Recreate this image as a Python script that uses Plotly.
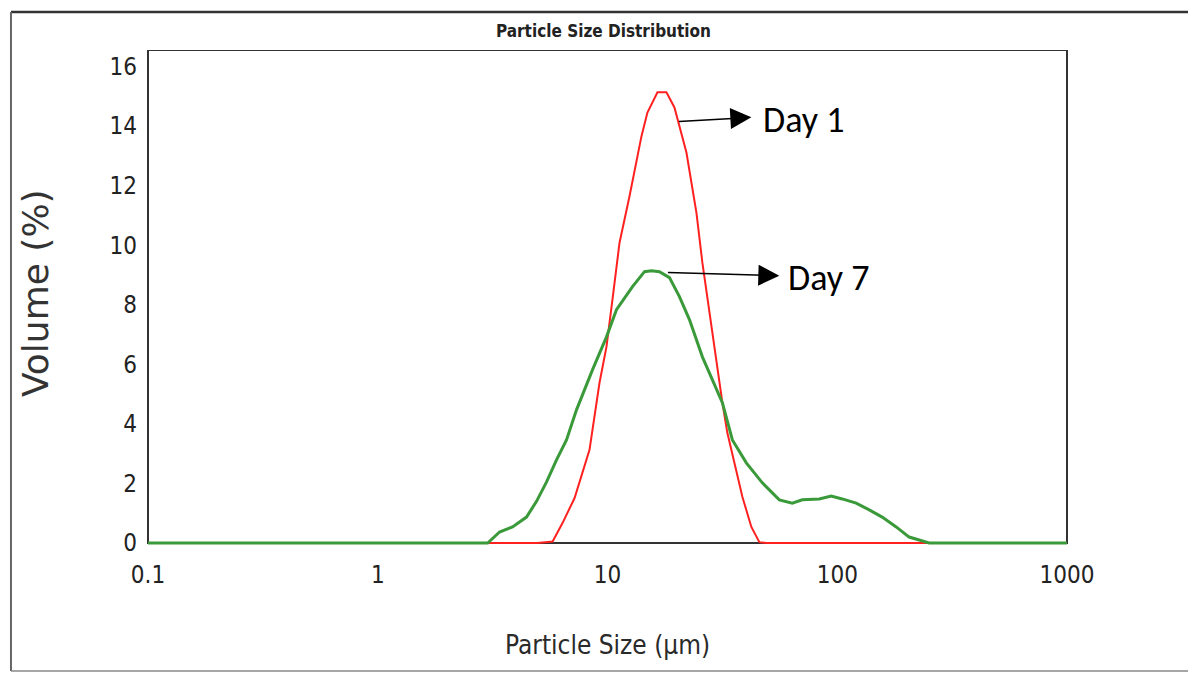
import numpy as np
import plotly.graph_objects as go

# ---- data (particle size in µm, volume in %) ----
day1_size = [0.8, 4.96, 5.77, 6.37, 7.19, 8.35, 9.23, 9.90, 10.51, 11.28, 12.46, 14.05,
             14.92, 16.5, 18.05, 19.56, 22.06, 24.38, 25.88, 27.77, 29.78, 31.62, 33.24,
             35.66, 38.64, 42.28, 45.81, 49.13, 259]
day1_volume = [0, 0, 0.05, 0.67, 1.51, 3.13, 5.38, 6.59, 8.17, 10.08, 11.63, 13.65,
               14.45, 15.13, 15.13, 14.62, 13.11, 11.09, 9.41, 7.73, 6.05, 4.71, 3.70,
               2.69, 1.55, 0.54, 0.03, 0, 0]

day7_size = [0.1, 3.01, 3.39, 3.86, 4.44, 4.91, 5.43, 6.00, 6.63, 7.33, 8.61, 9.90, 10.94,
             12.85, 14.49, 15.54, 16.83, 18.61, 20.56, 22.73, 25.88, 28.6, 31.62, 34.96,
             40.2, 47.2, 55.96, 63.73, 70.43, 83.51, 94.17, 105.1, 120.9, 137.8, 156.9,
             180.5, 205.6, 227.3, 251, 1000]
day7_volume = [0, 0, 0.37, 0.54, 0.87, 1.4, 2.05, 2.79, 3.46, 4.47, 5.82, 6.92, 7.83,
               8.61, 9.11, 9.14, 9.11, 8.91, 8.27, 7.5, 6.25, 5.48, 4.71, 3.46,
               2.69, 2.02, 1.45, 1.34, 1.45, 1.48, 1.58, 1.48, 1.34, 1.11, 0.87,
               0.54, 0.2, 0.1, 0, 0]

x_tick_vals = [0.1, 1, 10, 100, 1000]
x_tick_text = ["0.1", "1", "10", "100", "1000"]
y_tick_vals = [0, 2, 4, 6, 8, 10, 12, 14, 16]
y_tick_text = ["0", "2", "4", "6", "8", "10", "12", "14", "16"]

Y_MIN, Y_MAX = -0.1, 16.55

NARROW = "Liberation Sans Narrow, DejaVu Sans Condensed, Arial Narrow, sans-serif"

fig = go.Figure()
fig.add_trace(go.Scatter(x=day1_size, y=day1_volume, mode="lines", name="Day 1",
                         line=dict(color="#ff2020", width=2), showlegend=False))
fig.add_trace(go.Scatter(x=day7_size, y=day7_volume, mode="lines", name="Day 7",
                         line=dict(color="#3a9a3a", width=3), showlegend=False))

# plot frame (below traces so that the curves cover the baseline)
fig.add_shape(type="rect", xref="paper", yref="y", x0=0, x1=1, y0=0, y1=Y_MAX,
              line=dict(color="#333333", width=2), layer="below")

# outer picture frame
def pline(x0, y0, x1, y1, color, width):
    fig.add_shape(type="line", xref="paper", yref="paper", x0=x0, y0=y0, x1=x1, y1=y1,
                  line=dict(color=color, width=width), layer="above")

L, R, T, B = -0.1491, 1.1382, 1.0766, -0.2520
pline(L, T, R, T, "#333333", 2.5)
pline(L, T, L, B, "#666666", 2)
pline(L, B, R, B, "#888888", 1.5)
pline(R, T, R, B, "#c8c8c8", 1)

fig.update_xaxes(type="log", range=[np.log10(0.1), np.log10(1000)],
                 showgrid=False, zeroline=False, showline=False, ticks="",
                 tickvals=x_tick_vals, ticktext=x_tick_text,
                 tickfont=dict(family=NARROW, size=24, color="#222222"),
                 ticklabelstandoff=12)
fig.update_yaxes(range=[Y_MIN, Y_MAX], showgrid=False, zeroline=False, showline=False,
                 ticks="", tickvals=y_tick_vals, ticktext=y_tick_text,
                 tickfont=dict(family=NARROW, size=24, color="#222222"),
                 ticklabelstandoff=10)

# titles
fig.add_annotation(text="Particle Size Distribution", xref="paper", yref="paper",
                   x=0.496, y=1.0383, showarrow=False, xanchor="center", yanchor="middle",
                   font=dict(family=NARROW, size=17, color="#222222", weight="bold"))
fig.add_annotation(text="Particle Size (µm)", xref="paper", yref="paper",
                   x=0.4995, y=-0.1996, showarrow=False, xanchor="center", yanchor="middle",
                   font=dict(family=NARROW, size=26, color="#2a2a2a"))
fig.add_annotation(text="Volume (%)", xref="paper", yref="paper",
                   x=-0.123, y=0.510, showarrow=False, textangle=-90,
                   xanchor="center", yanchor="middle",
                   font=dict(family="DejaVu Sans, sans-serif", size=36, color="#333333"))

# series labels with arrows
lg = np.log10
fig.add_annotation(x=lg(42.28), y=14.29, ax=lg(20.15), ay=14.15, xref="x", yref="y",
                   axref="x", ayref="y", text="", showarrow=True, arrowhead=2,
                   arrowsize=2.8, arrowwidth=1.5, arrowcolor="#000000")
fig.add_annotation(x=lg(55.96), y=8.97, ax=lg(18.05), ay=9.08, xref="x", yref="y",
                   axref="x", ayref="y", text="", showarrow=True, arrowhead=2,
                   arrowsize=2.8, arrowwidth=1.5, arrowcolor="#000000")
fig.add_annotation(x=1.6696, y=14.2, xref="x", yref="y", text="Day 1", showarrow=False,
                   xanchor="left", yanchor="middle",
                   font=dict(family="Carlito, Noto Sans, sans-serif", size=36, color="#000000"))
fig.add_annotation(x=1.7783, y=8.9, xref="x", yref="y", text="Day 7", showarrow=False,
                   xanchor="left", yanchor="middle",
                   font=dict(family="Carlito, Noto Sans, sans-serif", size=36, color="#000000"))

# page body has an 8px margin: size the figure so the plot area lands at 148..1067 x 50..546
fig.update_layout(width=1188, height=665, autosize=False,
                  margin=dict(l=140, r=129, t=42, b=127, pad=0),
                  paper_bgcolor="white", plot_bgcolor="white")

fig.write_html("out.html")
